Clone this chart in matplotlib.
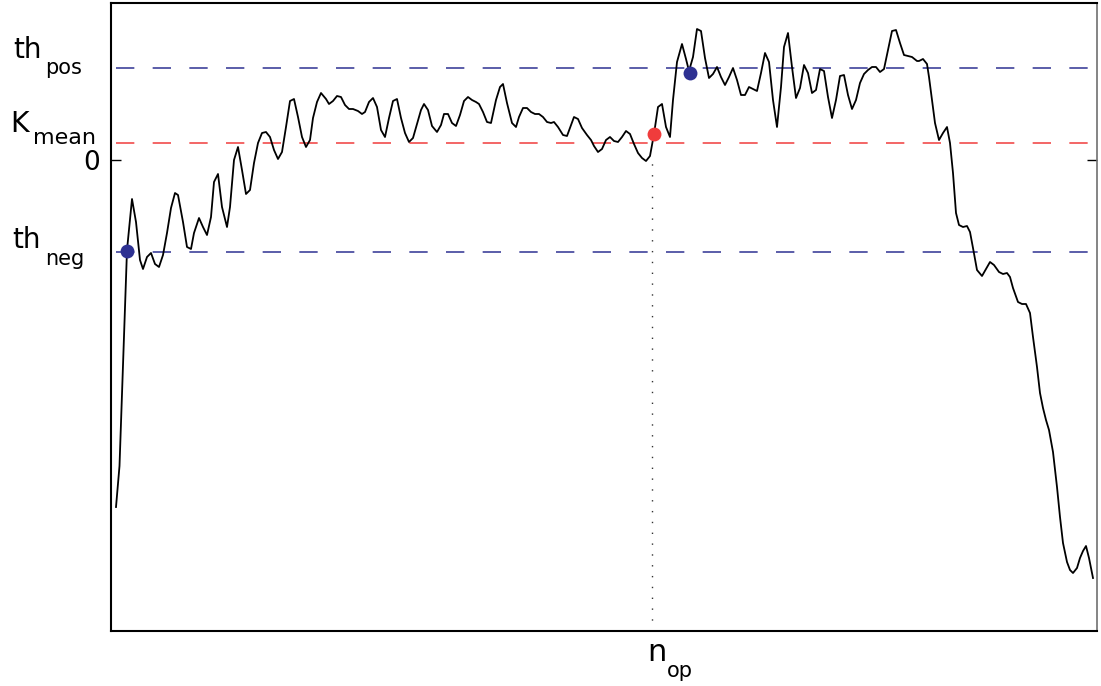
import matplotlib

matplotlib.use("Agg")
import matplotlib.pyplot as plt

W, H = 1101, 686

# trace of the statistic (arbitrary units)
n = [5, 8.5, 16, 21, 25, 29, 32, 36, 40, 44, 48, 52, 56, 60, 64, 67, 72, 76, 80, 83,
     88, 92, 96, 100, 103, 107, 111, 116, 119, 123, 127, 131, 135, 139, 143, 147, 151, 155, 159, 163,
     167, 171, 175, 179, 183, 187, 191, 195, 199, 202, 206, 210, 215, 218, 222, 226, 230, 234, 238, 242,
     247, 251, 254, 258, 262, 266, 270, 274, 278, 282, 286, 290, 294, 298, 302, 306, 310, 313, 317, 321,
     326, 330, 333, 337, 341, 345, 349, 353, 357, 361, 365, 368, 372, 376, 380, 385, 389, 392, 396, 401,
     405, 408, 412, 416, 420, 424, 428, 432, 436, 440, 443, 447, 452, 456, 460, 463, 467, 471, 476, 480,
     483, 487, 491, 495, 499, 503, 507, 511, 515, 519, 523, 527, 531, 535, 539, 543, 547, 551, 555, 559,
     562, 566, 571, 575, 578, 582, 586, 590, 594, 598, 602, 606, 610, 614, 618, 622, 626, 630, 634, 638,
     642, 646, 650, 654, 658, 662, 666, 670, 673, 677, 681, 685, 689, 693, 697, 701, 705, 709, 713, 717,
     721, 725, 729, 733, 737, 741, 745, 749, 753, 757, 761, 765, 769, 773, 777, 781, 785, 789, 793, 797,
     801, 806, 808, 812, 816, 818, 821, 824, 828, 832, 836, 839, 842, 845, 848, 852, 856, 859, 862, 866,
     871, 875, 879, 883, 888, 892, 896, 899, 902, 907, 911, 915, 919, 922, 926, 929, 932, 935, 938, 942,
     946, 949, 952, 956, 959, 962, 966, 969, 972, 975, 978, 982]
k = [-347, -306, -90, -39, -62, -100, -109, -97, -93, -104, -107, -95, -73, -48, -33, -35, -62, -87, -89, -73,
     -58, -67, -75, -57, -22, -14, -47, -67, -47, 0, 13, -10, -34, -30, -3, 17, 27, 28, 23, 10,
     1, 8, 33, 59, 61, 43, 23, 13, 20, 42, 58, 67, 61, 56, 59, 64, 63, 55, 51, 51,
     49, 46, 48, 58, 62, 53, 30, 23, 42, 59, 61, 42, 27, 18, 22, 36, 50, 56, 50, 34,
     28, 35, 46, 46, 37, 34, 45, 59, 63, 60, 58, 56, 48, 38, 37, 60, 73, 76, 57, 37,
     33, 43, 52, 52, 48, 46, 46, 43, 38, 37, 38, 33, 25, 24, 35, 43, 41, 32, 25, 20,
     14, 8, 11, 20, 23, 19, 18, 23, 29, 26, 16, 7, 2, -1, 4, 26, 53, 56, 33, 23,
     60, 98, 116, 101, 89, 103, 131, 129, 102, 82, 86, 93, 83, 75, 83, 92, 80, 65, 65, 73,
     71, 69, 87, 107, 98, 60, 33, 73, 113, 127, 93, 62, 72, 95, 87, 67, 70, 91, 89, 63,
     42, 60, 84, 85, 65, 51, 60, 77, 86, 90, 93, 93, 88, 91, 110, 129, 130, 117, 105, 104,
     103, 99, 99, 101, 96, 83, 60, 37, 20, 27, 33, 17, -13, -53, -65, -67, -66, -72, -88, -110,
     -116, -109, -102, -105, -112, -114, -113, -117, -128, -142, -144, -144, -153, -177, -207, -233, -248, -260, -270, -292,
     -327, -357, -383, -402, -410, -413, -408, -398, -391, -386, -398, -418]

TH_POS = 92
TH_NEG = -92
K_MEAN = 17
N_OP = 541
K_AT_NOP = -1

# detected crossings
blue_n = [16, 579]
blue_k = [-91, 87]
red_n = [543]
red_k = [26]

BLUE = "#2E3192"
RED = "#F03C3C"


def fpos(x, y):
    return x / W, 1 - y / H


def main() -> None:
    plt.rcParams["font.family"] = "DejaVu Sans"
    fig = plt.figure(figsize=(W / 100, H / 100), dpi=100)
    ax = fig.add_axes([111 / W, 1 - 631 / H, 986 / W, 628 / H])
    ax.set_xlim(0, 986)
    ax.set_ylim(-471, 157)

    dash = (0, (12, 12))
    for level, color in ((TH_POS, BLUE), (TH_NEG, BLUE), (K_MEAN, RED)):
        ax.plot([n[0], n[-1]], [level, level], color=color, lw=1.1, linestyle=dash, zorder=1)

    ax.plot([N_OP, N_OP], [ax.get_ylim()[0], K_AT_NOP], color="#333333", lw=1.0,
            linestyle=(0, (1, 6.8)), zorder=1)

    ax.plot(n, k, color="black", lw=1.3, zorder=2)
    ax.plot(blue_n, blue_k, "o", color=BLUE, markersize=10, markeredgewidth=0, zorder=3)
    ax.plot(red_n, red_k, "o", color=RED, markersize=10, markeredgewidth=0, zorder=3)

    ax.set_xticks([])
    ax.set_yticks([0])
    ax.set_yticklabels(["0"])
    ax.tick_params(axis="y", direction="in", length=7, width=1, right=True,
                   labelsize=19, pad=8)
    for side in ("left", "bottom", "top"):
        ax.spines[side].set_linewidth(1.5)
    ax.spines["right"].set_linewidth(1.2)
    ax.spines["right"].set_color("#707070")

    labels = [
        ("th", 13, 58.5, 20), ("pos", 45, 74.5, 15),
        ("K", 10, 132, 20.5), ("mean", 33, 144, 16),
        ("th", 12.7, 248.5, 20), ("neg", 45, 265, 15),
        ("n", 647, 661, 22), ("op", 667, 677, 15),
    ]
    for text, x, y, size in labels:
        fig.text(*fpos(x, y), text, ha="left", va="baseline", fontsize=size)

    fig.savefig("out.png", dpi=100)
    plt.close(fig)


if __name__ == "__main__":
    main()
